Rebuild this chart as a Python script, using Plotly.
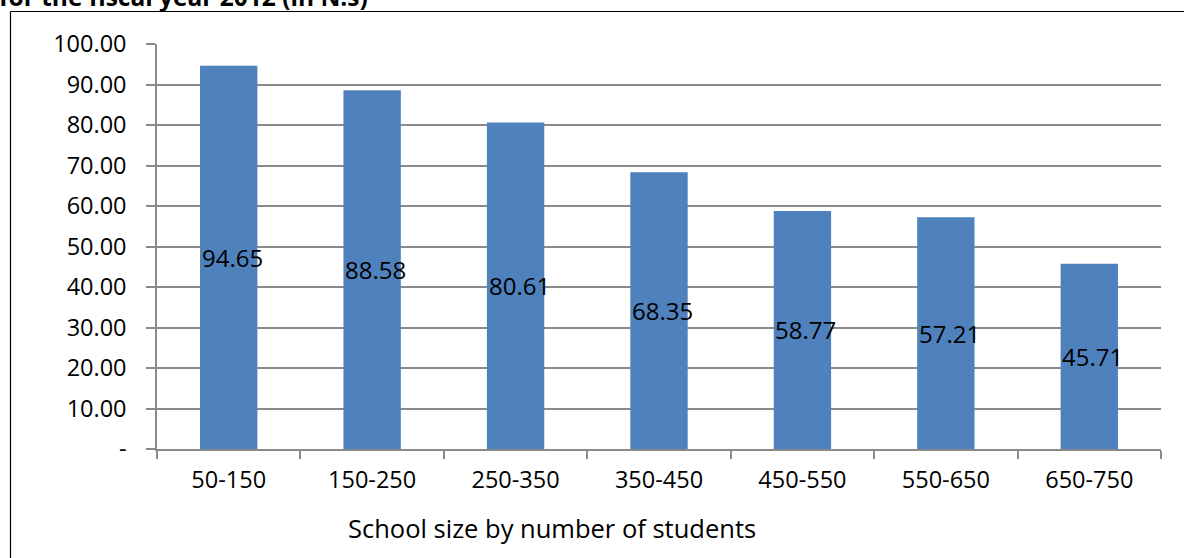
import plotly.graph_objects as go

categories = ["50-150", "150-250", "250-350", "350-450", "450-550", "550-650", "650-750"]
values = [94.65, 88.58, 80.61, 68.35, 58.77, 57.21, 45.71]
y_tickvals = [0, 10, 20, 30, 40, 50, 60, 70, 80, 90, 100]
y_ticktext = ["-"] + [f"{v:.2f}" for v in y_tickvals[1:]]
x_title = "School size by number of students"
top_text = "for the fiscal year 2012 (in N.s)"

W, H = 1184, 558
L, R, T, B = 157, 23, 44, 109
pw, ph = W - L - R, H - T - B

def px_x(p):
    return (p - L) / pw

def px_y(p):
    return (H - B - p) / ph

FONT = "Open Sans"
GRID = "#8a8a8a"

fig = go.Figure()
fig.add_trace(go.Bar(x=categories, y=values, marker=dict(color="#4F81BD", line=dict(width=0)),
                     hoverinfo="x+y"))

annotations = []
for c, v in zip(categories, values):
    annotations.append(dict(x=c, y=v / 2, xref="x", yref="y", text=f"{v:.2f}",
                            showarrow=False, xanchor="left", yanchor="middle",
                            xshift=-29, font=dict(family=FONT, size=24, color="#000000")))

annotations.append(dict(x=px_x(552), y=px_y(528), xref="paper", yref="paper", text=x_title,
                        showarrow=False, xanchor="center", yanchor="middle",
                        font=dict(family=FONT, size=25.5, color="#000000")))
annotations.append(dict(x=px_x(-3), y=px_y(-4), xref="paper", yref="paper", text="<b>" + top_text + "</b>",
                        showarrow=False, xanchor="left", yanchor="middle",
                        font=dict(family=FONT, size=24.5, color="#000000")))

shapes = [
    dict(type="line", xref="paper", yref="paper", x0=px_x(10.5), x1=px_x(1200), y0=px_y(11.5), y1=px_y(11.5),
         line=dict(color="#000000", width=1.2)),
    dict(type="line", xref="paper", yref="paper", x0=px_x(10.5), x1=px_x(10.5), y0=px_y(11.5), y1=px_y(600),
         line=dict(color="#000000", width=1.2)),
]

fig.update_layout(
    width=W, height=H,
    margin=dict(l=L, r=R, t=T, b=B, pad=0),
    paper_bgcolor="white", plot_bgcolor="white",
    bargap=0.6,
    showlegend=False,
    annotations=annotations,
    shapes=shapes,
    font=dict(family=FONT, size=23, color="#000000"),
)
fig.update_xaxes(
    type="category", showgrid=False, showline=True, linecolor=GRID, linewidth=1.5,
    ticks="outside", tickson="boundaries", ticklen=8, tickcolor=GRID, tickwidth=1.5,
    tickfont=dict(family=FONT, size=23.5, color="#000000"), ticklabelstandoff=9,
)
fig.update_yaxes(
    range=[0, 100], tickvals=y_tickvals, ticktext=y_ticktext,
    showgrid=True, gridcolor=GRID, gridwidth=1.5,
    showline=True, linecolor=GRID, linewidth=1.5,
    ticks="outside", ticklen=9, tickcolor=GRID, tickwidth=1.5,
    tickfont=dict(family=FONT, size=23.5, color="#000000"), ticklabelstandoff=15,
    zeroline=False,
)

fig.write_html("out.html")
